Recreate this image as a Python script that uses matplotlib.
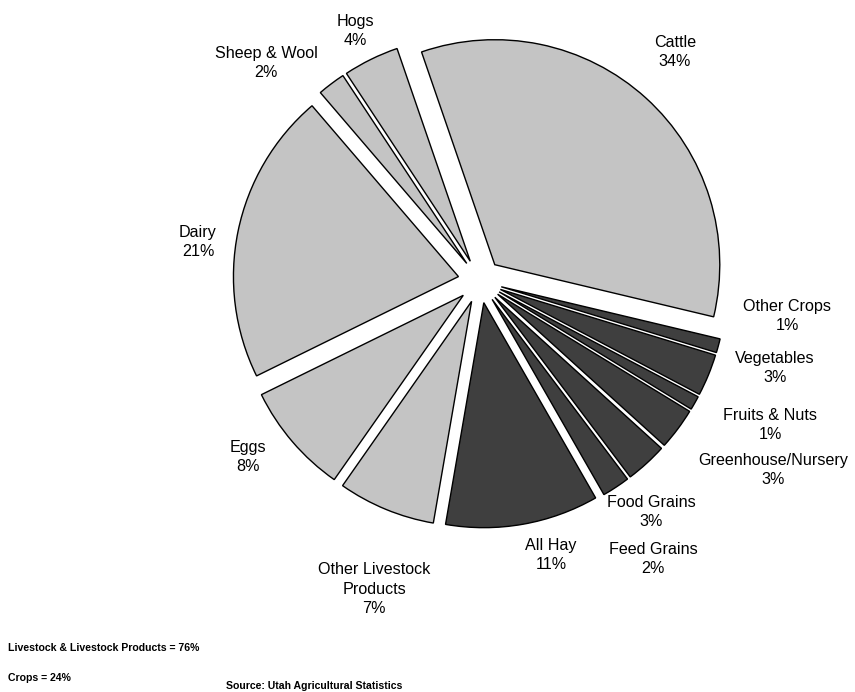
import matplotlib.pyplot as plt

W, H = 855, 692

# datos (orden horario desde Cattle)
categorias = ['Cattle', 'Other Crops', 'Vegetables', 'Fruits & Nuts',
              'Greenhouse/Nursery', 'Food Grains', 'Feed Grains', 'All Hay',
              'Other Livestock\nProducts', 'Eggs', 'Dairy', 'Sheep & Wool', 'Hogs']
porcentajes = [34, 1, 3, 1, 3, 3, 2, 11, 7, 8, 21, 2, 4]
grupo = ['L', 'C', 'C', 'C', 'C', 'C', 'C', 'C', 'L', 'L', 'L', 'L', 'L']
totales = ['Livestock & Livestock Products = 76%', 'Crops = 24%']
fuente = 'Source: Utah Agricultural Statistics'

# posiciones de etiquetas (pixeles, desde arriba a la izquierda)
pos_etiquetas = [(675, 52), (787, 316), (775, 368), (770, 425), (773, 470),
                 (651, 512), (653, 559), (551, 555), (374, 589), (248, 457),
                 (198, 242), (266, 63), (355, 31)]

colores = {'L': '#c4c4c4', 'C': '#3f3f3f'}

fig = plt.figure(figsize=(W / 100, H / 100), dpi=100)
ax = fig.add_axes([0, 0, 1, 1])

ax.pie(porcentajes, colors=[colores[g] for g in grupo], startangle=109,
       counterclock=False, center=(480, H - 281), radius=225,
       explode=[22] * len(porcentajes),
       wedgeprops={'edgecolor': 'black', 'linewidth': 1.0})
ax.set_xlim(0, W)
ax.set_ylim(0, H)
ax.set_aspect('equal')
ax.axis('off')

for nombre, p, (x, y) in zip(categorias, porcentajes, pos_etiquetas):
    ax.text(x, H - y, f'{nombre}\n{p}%', ha='center', va='center',
            fontsize=11.6, family='Liberation Sans', linespacing=1.35)

ax.text(8, H - 648, totales[0], ha='left', va='center', fontsize=7.6,
        fontweight='bold', family='Liberation Sans')
ax.text(8, H - 678, totales[1], ha='left', va='center', fontsize=7.6,
        fontweight='bold', family='Liberation Sans')
ax.text(226, H - 686, fuente, ha='left', va='center', fontsize=7.6,
        fontweight='bold', family='Liberation Sans')

plt.savefig('out.png', dpi=100)
